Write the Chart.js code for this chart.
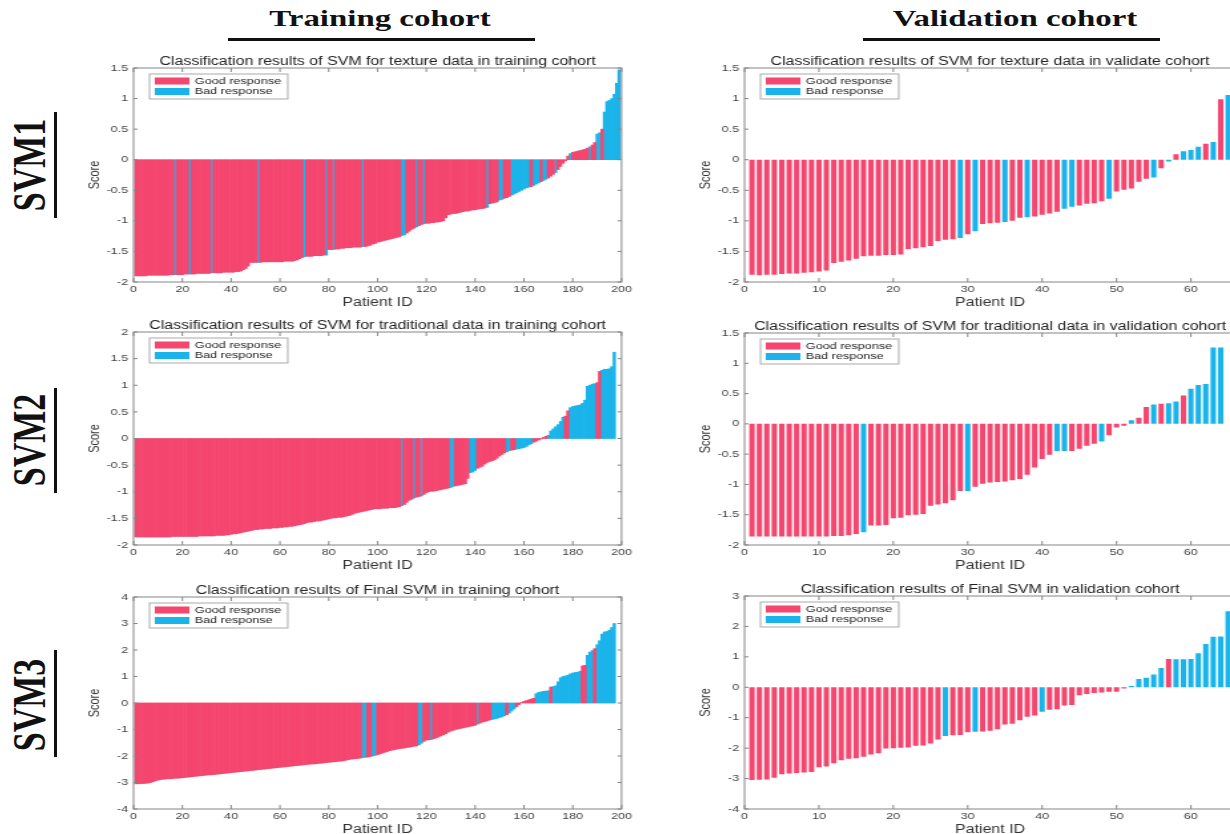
<!DOCTYPE html>
<html>
<head>
<meta charset="utf-8">
<script src="https://cdn.jsdelivr.net/npm/chart.js@4.4.1/dist/chart.umd.min.js"></script>
<style>
  html, body { margin: 0; padding: 0; background: #fff; }
  body { width: 1230px; height: 834px; overflow: hidden; position: relative; }
  .head { position: absolute; top: 4px; font-family: 'Liberation Serif', 'Times New Roman', serif;
          font-weight: bold; font-size: 24px; line-height: 28px; color: #111; white-space: nowrap;
          transform: translateX(-50%) scaleX(1.37); }
  .rule { position: absolute; background: #111; }
  .svm { position: absolute; font-family: 'Liberation Serif', 'Times New Roman', serif;
         font-weight: bold; font-size: 34px; line-height: 36px; color: #111; white-space: nowrap;
         transform: translate(-50%, -50%) scaleX(1.35) rotate(-90deg); }
  .panel { position: absolute; transform-origin: 0 0; transform: scaleX(1.33); }
</style>
</head>
<body>
<div class="head" style="left:380px">Training cohort</div>
<div class="rule" style="left:228px; top:38px; width:307px; height:3px"></div>
<div class="head" style="left:1015px">Validation cohort</div>
<div class="rule" style="left:863px; top:38px; width:297px; height:3px"></div>

<div class="svm" style="left:30px; top:165px">SVM1</div>
<div class="rule" style="left:54px; top:112px; width:3px; height:106px"></div>
<div class="svm" style="left:30px; top:440px">SVM2</div>
<div class="rule" style="left:54px; top:388px; width:3px; height:105px"></div>
<div class="svm" style="left:30px; top:705px">SVM3</div>
<div class="rule" style="left:54px; top:650px; width:3px; height:107px"></div>

<script>
// sorted SVM scores per patient, and the patient positions with a bad response
const texTrainScore = [
  -1.90,-1.90,-1.90,-1.90,-1.90,-1.89,-1.89,-1.89,-1.89,-1.89,
  -1.89,-1.89,-1.89,-1.89,-1.88,-1.88,-1.88,-1.88,-1.88,-1.88,
  -1.87,-1.87,-1.87,-1.87,-1.87,-1.86,-1.86,-1.86,-1.86,-1.86,
  -1.86,-1.85,-1.85,-1.85,-1.85,-1.85,-1.84,-1.84,-1.84,-1.84,
  -1.84,-1.83,-1.83,-1.82,-1.80,-1.78,-1.74,-1.68,-1.68,-1.68,
  -1.68,-1.68,-1.67,-1.67,-1.67,-1.67,-1.67,-1.67,-1.67,-1.67,
  -1.67,-1.66,-1.66,-1.66,-1.66,-1.65,-1.64,-1.62,-1.60,-1.59,
  -1.58,-1.58,-1.58,-1.57,-1.57,-1.57,-1.57,-1.56,-1.56,-1.47,
  -1.47,-1.47,-1.46,-1.46,-1.45,-1.45,-1.44,-1.44,-1.44,-1.43,
  -1.43,-1.43,-1.43,-1.42,-1.42,-1.41,-1.40,-1.38,-1.37,-1.35,
  -1.34,-1.33,-1.32,-1.31,-1.30,-1.29,-1.28,-1.27,-1.26,-1.24,
  -1.23,-1.20,-1.17,-1.14,-1.12,-1.10,-1.08,-1.06,-1.05,-1.04,
  -1.04,-1.03,-1.03,-1.02,-1.02,-1.01,-1.00,-0.95,-0.90,-0.89,
  -0.88,-0.88,-0.87,-0.86,-0.85,-0.84,-0.84,-0.83,-0.82,-0.82,
  -0.81,-0.80,-0.80,-0.79,-0.78,-0.72,-0.71,-0.70,-0.69,-0.66,
  -0.65,-0.63,-0.62,-0.60,-0.58,-0.56,-0.54,-0.52,-0.50,-0.48,
  -0.46,-0.45,-0.44,-0.42,-0.40,-0.38,-0.36,-0.34,-0.32,-0.30,
  -0.27,-0.24,-0.21,-0.16,-0.11,-0.06,-0.02,0.06,0.10,0.12,
  0.13,0.14,0.15,0.16,0.17,0.19,0.21,0.24,0.28,0.42,
  0.44,0.50,0.78,0.95,0.97,1.00,1.07,1.25,1.47
];
const texTrainBad = [17,23,32,51,70,79,82,94,110,111,116,119,145,150,151,155,156,157,158,159,160,161,162,
  164,165,166,168,169,173,179,187,190,191,193,194,195,196,197,198,199];

const tradTrainScore = [
  -1.85,-1.85,-1.85,-1.85,-1.85,-1.85,-1.85,-1.85,-1.85,-1.85,
  -1.85,-1.85,-1.85,-1.85,-1.85,-1.84,-1.84,-1.84,-1.84,-1.84,
  -1.84,-1.84,-1.84,-1.84,-1.84,-1.84,-1.83,-1.83,-1.83,-1.83,
  -1.83,-1.83,-1.83,-1.82,-1.82,-1.82,-1.82,-1.81,-1.81,-1.80,
  -1.79,-1.79,-1.78,-1.77,-1.76,-1.75,-1.74,-1.73,-1.72,-1.71,
  -1.71,-1.70,-1.70,-1.69,-1.69,-1.69,-1.68,-1.68,-1.68,-1.67,
  -1.67,-1.66,-1.66,-1.65,-1.65,-1.64,-1.63,-1.62,-1.61,-1.60,
  -1.58,-1.57,-1.57,-1.56,-1.55,-1.55,-1.54,-1.53,-1.52,-1.51,
  -1.50,-1.49,-1.49,-1.48,-1.48,-1.47,-1.46,-1.45,-1.44,-1.42,
  -1.40,-1.39,-1.38,-1.37,-1.36,-1.35,-1.34,-1.33,-1.32,-1.32,
  -1.32,-1.31,-1.31,-1.31,-1.30,-1.30,-1.30,-1.29,-1.28,-1.26,
  -1.24,-1.20,-1.16,-1.14,-1.12,-1.10,-1.09,-1.08,-1.05,-1.02,
  -1.00,-0.99,-0.99,-0.98,-0.97,-0.96,-0.95,-0.94,-0.93,-0.92,
  -0.90,-0.89,-0.88,-0.87,-0.86,-0.85,-0.75,-0.64,-0.63,-0.60,
  -0.56,-0.54,-0.52,-0.48,-0.45,-0.43,-0.42,-0.40,-0.37,-0.33,
  -0.30,-0.27,-0.25,-0.23,-0.22,-0.21,-0.20,-0.19,-0.18,-0.17,
  -0.15,-0.12,-0.10,-0.07,-0.05,-0.03,-0.01,0.02,0.04,0.06,
  0.14,0.18,0.22,0.26,0.32,0.40,0.42,0.52,0.58,0.60,
  0.61,0.62,0.63,0.66,0.72,0.98,1.00,1.02,1.03,1.05,
  1.26,1.28,1.30,1.30,1.31,1.35,1.62
];
const tradTrainBad = [110,115,118,130,131,138,139,140,153,154,157,158,159,160,161,162,163,
  170,171,172,173,174,175,176,179,180,181,182,183,184,185,186,187,188,189,192,193,194,195,196,197];

const finalTrainScore = [
  -3.05,-3.05,-3.04,-3.04,-3.03,-3.02,-3.00,-2.97,-2.94,-2.91,
  -2.89,-2.88,-2.87,-2.86,-2.86,-2.85,-2.84,-2.84,-2.83,-2.82,
  -2.81,-2.80,-2.79,-2.78,-2.77,-2.76,-2.75,-2.74,-2.73,-2.72,
  -2.71,-2.71,-2.70,-2.69,-2.68,-2.67,-2.66,-2.65,-2.64,-2.63,
  -2.62,-2.61,-2.60,-2.59,-2.58,-2.57,-2.56,-2.55,-2.54,-2.53,
  -2.52,-2.51,-2.50,-2.49,-2.48,-2.47,-2.46,-2.45,-2.44,-2.43,
  -2.42,-2.41,-2.40,-2.39,-2.38,-2.37,-2.36,-2.35,-2.34,-2.33,
  -2.32,-2.31,-2.30,-2.30,-2.29,-2.28,-2.27,-2.26,-2.25,-2.24,
  -2.23,-2.22,-2.21,-2.20,-2.19,-2.18,-2.16,-2.14,-2.12,-2.11,
  -2.10,-2.09,-2.08,-2.06,-2.05,-2.04,-2.02,-2.00,-1.98,-1.95,
  -1.92,-1.89,-1.86,-1.83,-1.80,-1.78,-1.76,-1.74,-1.72,-1.71,
  -1.70,-1.68,-1.67,-1.65,-1.63,-1.62,-1.58,-1.52,-1.45,-1.40,
  -1.39,-1.38,-1.35,-1.32,-1.28,-1.24,-1.20,-1.16,-1.10,-1.06,
  -1.03,-1.00,-0.98,-0.96,-0.94,-0.92,-0.90,-0.88,-0.86,-0.84,
  -0.80,-0.76,-0.72,-0.70,-0.67,-0.64,-0.62,-0.60,-0.58,-0.55,
  -0.52,-0.48,-0.44,-0.38,-0.30,-0.22,-0.14,-0.06,0.02,0.06,
  0.09,0.12,0.15,0.18,0.35,0.40,0.42,0.44,0.45,0.46,
  0.60,0.62,0.65,0.80,0.95,1.00,1.02,1.05,1.10,1.13,
  1.15,1.16,1.20,1.40,1.42,1.80,1.92,1.98,2.05,2.20,
  2.35,2.60,2.68,2.70,2.75,2.85,3.00
];
const finalTrainBad = [94,95,98,99,117,118,122,141,147,148,149,150,151,152,154,155,156,
  165,166,167,168,169,170,172,173,174,175,176,177,178,179,180,181,182,183,186,187,188,
  190,191,192,193,194,195,196,197];

const texValScore = [
  -1.88,-1.89,-1.88,-1.88,-1.87,-1.86,-1.86,-1.85,-1.84,-1.83,
  -1.81,-1.69,-1.67,-1.65,-1.62,-1.58,-1.57,-1.57,-1.56,-1.56,
  -1.55,-1.46,-1.45,-1.43,-1.41,-1.33,-1.31,-1.30,-1.28,-1.22,
  -1.17,-1.05,-1.04,-1.03,-1.02,-1.00,-0.95,-0.94,-0.93,-0.90,
  -0.88,-0.85,-0.80,-0.77,-0.75,-0.72,-0.71,-0.68,-0.64,-0.52,
  -0.49,-0.47,-0.36,-0.31,-0.29,-0.14,-0.03,0.09,0.14,0.16,
  0.21,0.26,0.29,0.99,1.06
];
const texValBad = [29,31,35,38,43,44,49,55,57,59,60,61,63,65];

const tradValScore = [
  -1.86,-1.86,-1.86,-1.86,-1.86,-1.86,-1.86,-1.86,-1.86,-1.86,
  -1.86,-1.85,-1.85,-1.84,-1.82,-1.79,-1.68,-1.68,-1.67,-1.56,
  -1.55,-1.51,-1.50,-1.49,-1.35,-1.33,-1.31,-1.26,-1.11,-1.11,
  -1.04,-0.99,-0.97,-0.96,-0.95,-0.93,-0.91,-0.84,-0.72,-0.58,
  -0.51,-0.45,-0.45,-0.45,-0.41,-0.36,-0.33,-0.29,-0.19,-0.06,
  -0.03,0.06,0.10,0.28,0.32,0.33,0.34,0.37,0.47,0.58,
  0.64,0.66,1.26,1.26
];
const tradValBad = [16,30,42,43,48,52,55,57,58,60,61,62,63,64];

const finalValScore = [
  -3.05,-3.04,-3.03,-2.97,-2.86,-2.83,-2.82,-2.80,-2.78,-2.63,
  -2.60,-2.50,-2.40,-2.35,-2.33,-2.28,-2.21,-2.17,-2.01,-2.00,
  -1.99,-1.98,-1.92,-1.91,-1.85,-1.72,-1.60,-1.58,-1.57,-1.48,
  -1.46,-1.45,-1.43,-1.38,-1.22,-1.20,-1.08,-0.97,-0.93,-0.80,
  -0.74,-0.72,-0.60,-0.58,-0.26,-0.22,-0.19,-0.17,-0.15,-0.15,
  -0.04,0.04,0.27,0.31,0.42,0.63,0.93,0.92,0.92,0.93,
  1.12,1.42,1.66,1.67,2.50
];
const finalValBad = [27,31,40,52,53,54,55,56,58,59,60,61,62,63,64,65];

const classNames = ['Good response', 'Bad response'];

const S = 1.33;           // horizontal stretch of the original figure
const PINK = '#f4466f';
const BLUE = '#1bb4ea';
const FONT = "'Liberation Sans', Arial, Helvetica, sans-serif";

function points(scores, bad, wantBad) {
  const out = [];
  scores.forEach((v, i) => {
    if (bad.includes(i + 1) === wantBad) out.push({x: i + 1, y: v});
  });
  return out;
}

// matlab-like box with inward ticks, plus the legend inside the axes
const matlabBox = {
  id: 'matlabBox',
  afterDraw(chart) {
    const {ctx, chartArea: a, scales: {x, y}} = chart;
    ctx.save();
    ctx.strokeStyle = '#858585';
    ctx.lineWidth = 1;
    ctx.strokeRect(a.left, a.top, a.right - a.left, a.bottom - a.top);
    ctx.beginPath();
    x.ticks.forEach(t => {
      const px = x.getPixelForValue(t.value);
      ctx.moveTo(px, a.bottom); ctx.lineTo(px, a.bottom - 4);
      ctx.moveTo(px, a.top); ctx.lineTo(px, a.top + 4);
    });
    y.ticks.forEach(t => {
      const py = y.getPixelForValue(t.value);
      ctx.moveTo(a.left, py); ctx.lineTo(a.left + 3, py);
      ctx.moveTo(a.right, py); ctx.lineTo(a.right - 3, py);
    });
    ctx.stroke();

    ctx.font = '9.5px ' + FONT;
    const sets = chart.data.datasets;
    const tw = Math.max(...sets.map(d => ctx.measureText(d.label).width));
    const lx = a.left + 12, ly = a.top + 6;
    const bw = 4 + 26 + 4 + tw + 5, bh = 25;
    ctx.fillStyle = '#fff';
    ctx.fillRect(lx, ly, bw, bh);
    ctx.strokeStyle = '#aaa';
    ctx.strokeRect(lx, ly, bw, bh);
    ctx.textBaseline = 'middle';
    ctx.textAlign = 'left';
    sets.forEach((d, i) => {
      const cy = ly + 7 + i * 10.5;
      ctx.fillStyle = d.backgroundColor;
      ctx.fillRect(lx + 4, cy - 3.5, 26, 7);
      ctx.fillStyle = '#222';
      ctx.fillText(d.label, lx + 34, cy);
    });
    ctx.restore();
  }
};

function makePanel(p) {
  const YW = 38, TH = 14, XH = 28;
  const plotW = (p.box[1] - p.box[0]) / S;
  const plotH = p.box[3] - p.box[2];
  const cw = Math.round(YW + plotW + 10);
  const ch = Math.round(TH + plotH + XH);

  const wrap = document.createElement('div');
  wrap.className = 'panel';
  wrap.style.left = (p.box[0] - YW * S) + 'px';
  wrap.style.top = (p.box[2] - TH) + 'px';
  const canvas = document.createElement('canvas');
  canvas.width = cw;
  canvas.height = ch;
  wrap.appendChild(canvas);
  document.body.appendChild(wrap);

  const barPct = p.gap ? 0.72 : 1;
  new Chart(canvas, {
    type: 'bar',
    data: {
      datasets: [
        {label: classNames[0], data: points(p.scores, p.bad, false), backgroundColor: PINK,
         grouped: false, barPercentage: barPct, categoryPercentage: 1, borderWidth: 0},
        {label: classNames[1], data: points(p.scores, p.bad, true), backgroundColor: BLUE,
         grouped: false, barPercentage: barPct, categoryPercentage: 1, borderWidth: 0}
      ]
    },
    options: {
      responsive: false,
      maintainAspectRatio: false,
      animation: false,
      devicePixelRatio: 1,
      layout: {padding: {left: 0, top: 0, right: cw - YW - plotW, bottom: ch - TH - plotH - XH}},
      plugins: {
        legend: {display: false},
        tooltip: {enabled: false},
        title: {
          display: true, text: p.title, fullSize: false, color: '#222',
          font: {family: FONT, size: 12, weight: 'normal', lineHeight: 1},
          padding: {top: 2, bottom: 0}
        }
      },
      scales: {
        x: {
          type: 'linear', offset: false, min: 0, max: p.xMax,
          grid: {display: false, drawTicks: false}, border: {display: false},
          ticks: {stepSize: p.xStep, includeBounds: false, autoSkip: false, maxRotation: 0,
                  color: '#444', padding: 2, font: {family: FONT, size: 9.5},
                  callback: v => String(v)},
          title: {display: true, text: 'Patient ID', color: '#333', padding: 0,
                  font: {family: FONT, size: 12}},
          afterFit: s => { s.height = XH; }
        },
        y: {
          min: p.yMin, max: p.yMax,
          grid: {display: false, drawTicks: false}, border: {display: false},
          ticks: {stepSize: p.yStep, color: '#444', padding: 4, font: {family: FONT, size: 9.5},
                  callback: v => String(v)},
          title: {display: true, text: 'Score', color: '#333', padding: {top: 2, bottom: 0},
                  font: {family: FONT, size: 11}},
          afterFit: s => { s.width = YW; }
        }
      }
    },
    plugins: [matlabBox]
  });
}

makePanel({title: 'Classification results of SVM for texture data in training cohort',
  scores: texTrainScore, bad: texTrainBad, box: [134, 622, 68, 282],
  xMax: 200, xStep: 20, yMin: -2, yMax: 1.5, yStep: 0.5});
makePanel({title: 'Classification results of SVM for texture data in validate cohort',
  scores: texValScore, bad: texValBad, box: [745, 1236, 68, 282], gap: true,
  xMax: 66, xStep: 10, yMin: -2, yMax: 1.5, yStep: 0.5});
makePanel({title: 'Classification results of SVM for traditional data in training cohort',
  scores: tradTrainScore, bad: tradTrainBad, box: [134, 622, 332, 545],
  xMax: 200, xStep: 20, yMin: -2, yMax: 2, yStep: 0.5});
makePanel({title: 'Classification results of SVM for traditional data in validation cohort',
  scores: tradValScore, bad: tradValBad, box: [745, 1236, 333, 545], gap: true,
  xMax: 66, xStep: 10, yMin: -2, yMax: 1.5, yStep: 0.5});
makePanel({title: 'Classification results of Final SVM in training cohort',
  scores: finalTrainScore, bad: finalTrainBad, box: [134, 622, 597, 809],
  xMax: 200, xStep: 20, yMin: -4, yMax: 4, yStep: 1});
makePanel({title: 'Classification results of Final SVM in validation cohort',
  scores: finalValScore, bad: finalValBad, box: [745, 1236, 596, 809], gap: true,
  xMax: 66, xStep: 10, yMin: -4, yMax: 3, yStep: 1});
</script>
</body>
</html>
